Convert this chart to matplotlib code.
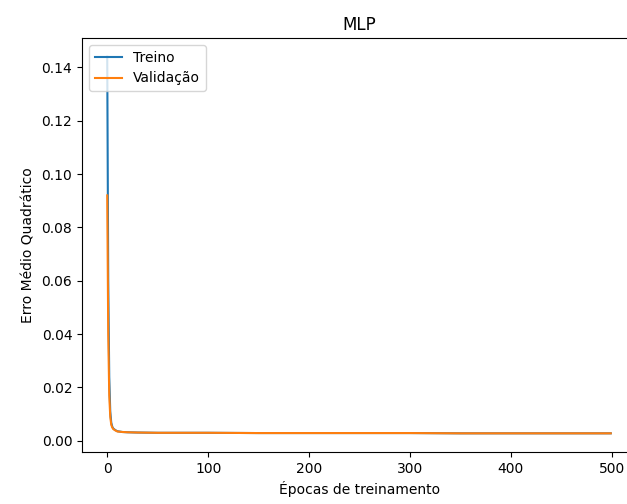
import matplotlib
matplotlib.use("Agg")
import matplotlib.pyplot as plt

# erro por epoca
epocas = [0, 1, 2, 3, 4, 5, 6, 8, 10, 15, 20, 30, 50, 100, 150, 200, 250, 300, 350, 400, 450, 499]
treino = [0.144, 0.060, 0.024, 0.011, 0.0068, 0.0053, 0.0046, 0.0040, 0.0036, 0.0033, 0.0032,
          0.0031, 0.0030, 0.0030, 0.0029, 0.0029, 0.0029, 0.0029, 0.0028, 0.0028, 0.0028, 0.0028]
validacao = [0.092, 0.040, 0.017, 0.0090, 0.0060, 0.0050, 0.0044, 0.0039, 0.0035, 0.0033, 0.0032,
             0.0031, 0.0030, 0.0030, 0.0029, 0.0029, 0.0029, 0.0029, 0.0028, 0.0028, 0.0028, 0.0028]

fig = plt.figure(figsize=(6.27, 5.04), dpi=100)
# eixo mais largo que a figura: o lado direito fica cortado como no original
ax = fig.add_axes([82 / 627, 1 - 452 / 504, 555 / 627, 414 / 504])
ax.plot(epocas, treino, label="Treino")
ax.plot(epocas, validacao, label="Validação")
ax.set_xlim(-25, 525)
ax.set_ylim(-0.0042, 0.151)
ax.spines["right"].set_visible(False)
ax.set_title("MLP")
ax.set_xlabel("Épocas de treinamento")
ax.set_ylabel("Erro Médio Quadrático")
ax.legend(loc="upper left")
fig.savefig("out.png", dpi=100)
